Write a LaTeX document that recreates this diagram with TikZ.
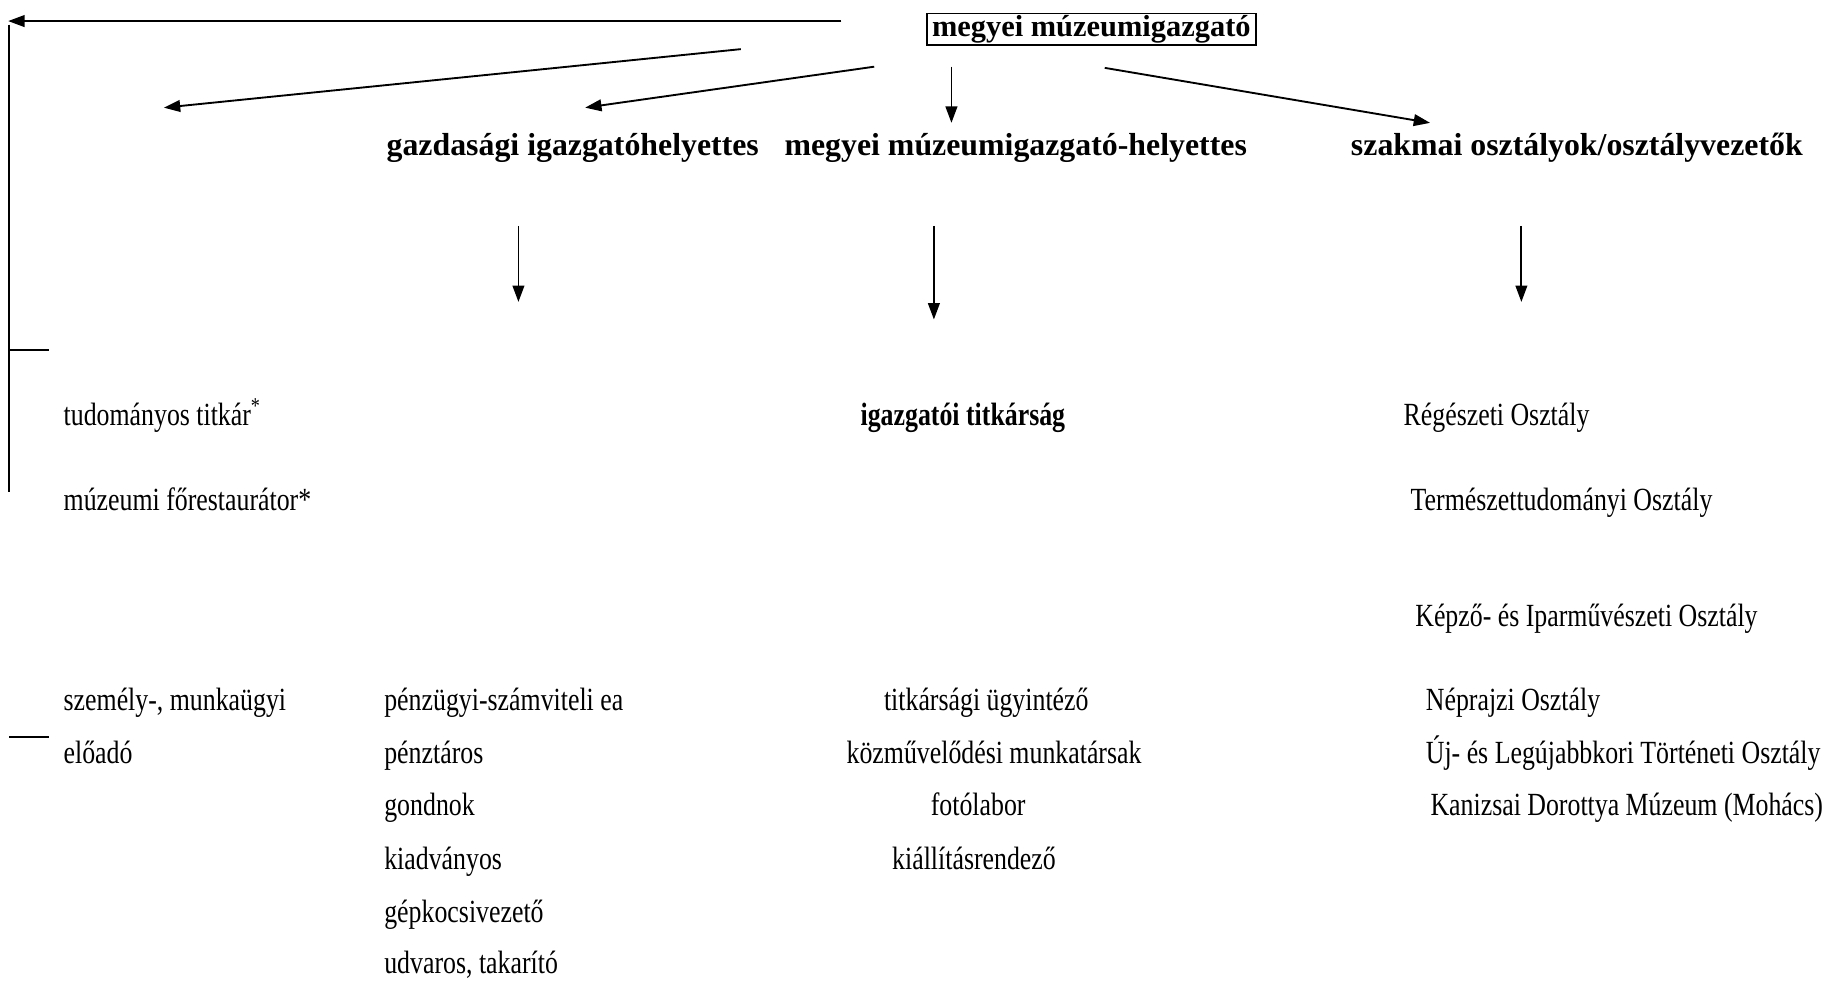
\documentclass[tikz,border=0pt]{standalone}
\usepackage{fontspec}
\setmainfont{Liberation Serif}
\newfontfamily\cond[FakeStretch=0.8]{Liberation Serif}
\usetikzlibrary{arrows.meta}
\begin{document}
\begin{tikzpicture}[x=0.5pt,y=-0.5pt,
  head/.style={font=\bfseries\fontsize{13.6}{15}\selectfont, inner sep=0pt, anchor=base west},
  item/.style={font=\cond\fontsize{13.8}{15}\selectfont, inner sep=0pt, anchor=base west},
  arr/.style={line width=0.8pt, -{Triangle[length=7pt,width=5pt]}},
  ln/.style={line width=0.8pt}]
\useasboundingbox (0,0) rectangle (1568,839);
% director box
\node[draw, line width=0.8pt, inner sep=0pt, minimum width=140.5pt, minimum height=13.5pt,
  font=\bfseries\fontsize{13}{14}\selectfont] (dir) at (932.5,25) {megyei múzeumigazgató};
% headings
\node[head] (gh) at (330,133) {gazdasági igazgatóhelyettes};
\node[head] (mh) at (670,133) {megyei múzeumigazgató-helyettes};
\node[head] (sz) at (1154,133) {szakmai osztályok/osztályvezetők};
% arrow end points
\coordinate (t0) at (719,18);
\coordinate (t1) at (7,18);
\coordinate (t1b) at (8,21);
\coordinate (t2) at (8,420);
\coordinate (a1s) at (633,42);
\coordinate (a1e) at (140,92);
\coordinate (a2s) at (747,57);
\coordinate (a2e) at (500,92);
\coordinate (a3s) at (813,57);
\coordinate (a3e) at (813,105);
\coordinate (a4s) at (944,58);
\coordinate (a4e) at (1222,105);
\coordinate (d1s) at (443,193);
\coordinate (d1e) at (443,258);
\coordinate (d2s) at (798,193);
\coordinate (d2e) at (798,273);
\coordinate (d3s) at (1300,193);
\coordinate (d3e) at (1300,258);
\coordinate (h1a) at (8,299);
\coordinate (h1b) at (42,299);
\coordinate (h2a) at (8,630);
\coordinate (h2b) at (42,630);
\draw[arr] (t0) -- (t1);
\draw[ln] (t1b) -- (t2);
\draw[ln] (h1a) -- (h1b);
\draw[ln] (h2a) -- (h2b);
\draw[arr] (a1s) -- (a1e);
\draw[arr] (a2s) -- (a2e);
\draw[arr] (a3s) -- (a3e);
\draw[arr] (a4s) -- (a4e);
\draw[arr] (d1s) -- (d1e);
\draw[arr] (d2s) -- (d2e);
\draw[arr] (d3s) -- (d3e);
% left column
\node[item] (tt) at (54,364) {tudományos titkár\textsuperscript{*}};
\node[item] (mf) at (54,436) {múzeumi főrestaurátor*};
\node[item] (sm) at (54,607) {személy-, munkaügyi};
\node[item] (ea) at (54,652) {előadó};
% economic column
\node[item] (p1) at (328,607) {pénzügyi-számviteli ea};
\node[item] (p2) at (328,652) {pénztáros};
\node[item] (p3) at (328,697) {gondnok};
\node[item] (p4) at (328,743) {kiadványos};
\node[item] (p5) at (328,788) {gépkocsivezető};
\node[item] (p6) at (328,832) {udvaros, takarító};
% middle column
\node[item, font=\cond\bfseries\fontsize{13.8}{15}\selectfont] (it) at (735,364) {igazgatói titkárság};
\node[item] (m1) at (755,607) {titkársági ügyintéző};
\node[item] (m2) at (723,652) {közművelődési munkatársak};
\node[item] (m3) at (795,697) {fotólabor};
\node[item] (m4) at (762,743) {kiállításrendező};
% right column
\node[item] (r1) at (1199,364) {Régészeti Osztály};
\node[item] (r2) at (1205,436) {Természettudományi Osztály};
\node[item] (r3) at (1209,535) {Képző- és Iparművészeti Osztály};
\node[item] (r4) at (1218,607) {Néprajzi Osztály};
\node[item] (r5) at (1218,652) {Új- és Legújabbkori Történeti Osztály};
\node[item] (r6) at (1222,697) {Kanizsai Dorottya Múzeum (Mohács)};
\end{tikzpicture}
\end{document}
